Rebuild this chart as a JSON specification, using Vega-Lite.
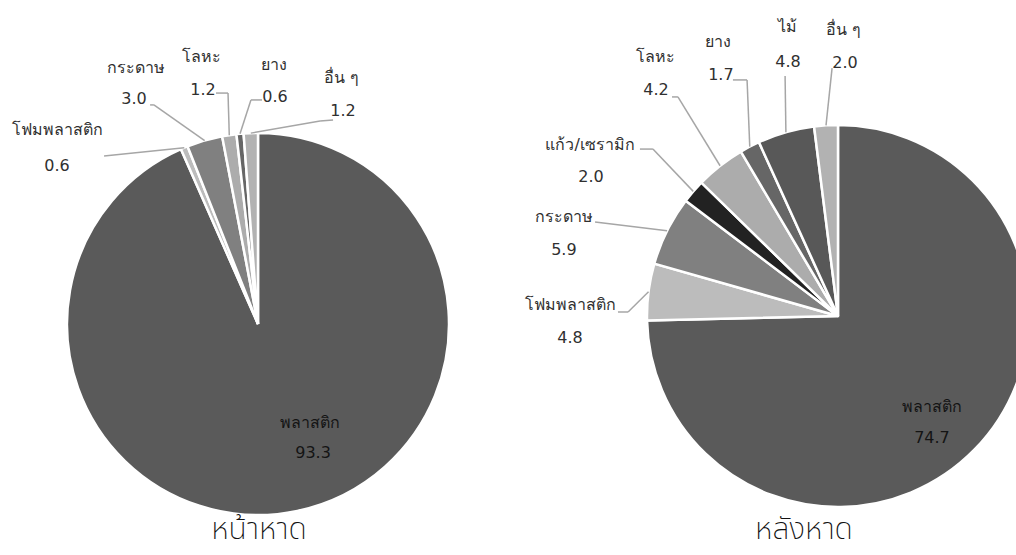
{
  "$schema": "https://vega.github.io/schema/vega-lite/v6.json",
  "width": 1016,
  "height": 555,
  "autosize": {"type": "none"},
  "padding": 0,
  "background": "white",
  "config": {
    "view": {"stroke": null},
    "font": "Tahoma, DejaVu Sans, sans-serif"
  },
  "datasets": {
    "slices": [
      {"pie": "หน้าหาด", "material": "พลาสติก", "value": 93.3, "ord": 1},
      {"pie": "หน้าหาด", "material": "โฟมพลาสติก", "value": 0.6, "ord": 2},
      {"pie": "หน้าหาด", "material": "กระดาษ", "value": 3.0, "ord": 3},
      {"pie": "หน้าหาด", "material": "โลหะ", "value": 1.2, "ord": 4},
      {"pie": "หน้าหาด", "material": "ยาง", "value": 0.6, "ord": 5},
      {"pie": "หน้าหาด", "material": "อื่น ๆ", "value": 1.2, "ord": 6},
      {"pie": "หลังหาด", "material": "พลาสติก", "value": 74.7, "ord": 1},
      {"pie": "หลังหาด", "material": "โฟมพลาสติก", "value": 4.8, "ord": 2},
      {"pie": "หลังหาด", "material": "กระดาษ", "value": 5.9, "ord": 3},
      {"pie": "หลังหาด", "material": "แก้ว/เซรามิก", "value": 2.0, "ord": 4},
      {"pie": "หลังหาด", "material": "โลหะ", "value": 4.2, "ord": 5},
      {"pie": "หลังหาด", "material": "ยาง", "value": 1.7, "ord": 6},
      {"pie": "หลังหาด", "material": "ไม้", "value": 4.8, "ord": 7},
      {"pie": "หลังหาด", "material": "อื่น ๆ", "value": 2.0, "ord": 8}
    ],
    "layout": [
      {"key": "หน้าหาด|พลาสติก", "nx": 0.272, "ny": 0.518, "vx": 0.288, "vy": 0.675},
      {"key": "หน้าหาด|โฟมพลาสติก", "nx": -1.052, "ny": -1.016, "vx": -1.052, "vy": -0.827, "ax": -0.806, "ay": -0.88, "bx": -0.806, "by": -0.88},
      {"key": "หน้าหาด|กระดาษ", "nx": -0.639, "ny": -1.34, "vx": -0.649, "vy": -1.178, "ax": -0.565, "ay": -1.147, "bx": -0.545, "by": -1.147},
      {"key": "หน้าหาด|โลหะ", "nx": -0.298, "ny": -1.398, "vx": -0.288, "vy": -1.225, "ax": -0.22, "ay": -1.209, "bx": -0.157, "by": -1.209},
      {"key": "หน้าหาด|ยาง", "nx": 0.084, "ny": -1.356, "vx": 0.089, "vy": -1.188, "ax": 0.021, "ay": -1.173, "bx": -0.037, "by": -1.173},
      {"key": "หน้าหาด|อื่น ๆ", "nx": 0.435, "ny": -1.288, "vx": 0.445, "vy": -1.115, "ax": 0.393, "ay": -1.068, "bx": 0.325, "by": -1.063},
      {"key": "หลังหาด|พลาสติก", "nx": 0.492, "ny": 0.476, "vx": 0.492, "vy": 0.639},
      {"key": "หลังหาด|โฟมพลาสติก", "nx": -1.398, "ny": -0.058, "vx": -1.403, "vy": 0.115, "ax": -1.152, "ay": -0.021, "bx": -1.099, "by": -0.021},
      {"key": "หลังหาด|กระดาษ", "nx": -1.435, "ny": -0.518, "vx": -1.435, "vy": -0.346, "ax": -1.272, "ay": -0.492, "bx": -1.272, "by": -0.492},
      {"key": "หลังหาด|แก้ว/เซรามิก", "nx": -1.298, "ny": -0.895, "vx": -1.293, "vy": -0.728, "ax": -1.037, "ay": -0.874, "bx": -0.969, "by": -0.874},
      {"key": "หลังหาด|โลหะ", "nx": -0.958, "ny": -1.356, "vx": -0.953, "vy": -1.183, "ax": -0.869, "ay": -1.147, "bx": -0.838, "by": -1.147},
      {"key": "หลังหาด|ยาง", "nx": -0.628, "ny": -1.435, "vx": -0.613, "vy": -1.262, "ax": -0.55, "ay": -1.236, "bx": -0.476, "by": -1.236},
      {"key": "หลังหาด|ไม้", "nx": -0.262, "ny": -1.513, "vx": -0.262, "vy": -1.33, "ax": -0.277, "ay": -1.257, "bx": -0.277, "by": -1.257},
      {"key": "หลังหาด|อื่น ๆ", "nx": 0.031, "ny": -1.497, "vx": 0.037, "vy": -1.325, "ax": -0.031, "ay": -1.298, "bx": -0.031, "by": -1.298}
    ],
    "pies": [
      {"pie": "หน้าหาด", "cx": 1.3508, "cy": 1.6963, "tx": 0.005, "ty": 1.078},
      {"pie": "หลังหาด", "cx": 4.3874, "cy": 1.6545, "tx": -0.178, "ty": 1.12}
    ]
  },
  "layer": [
    {
      "data": {"name": "slices"},
      "transform": [
        {"stack": "value", "groupby": ["pie"], "sort": [{"field": "ord", "order": "ascending"}], "offset": "normalize", "as": ["s0", "s1"]},
        {"calculate": "datum.pie + '|' + datum.material", "as": "key"},
        {"lookup": "pie", "from": {"data": {"name": "pies"}, "key": "pie", "fields": ["cx", "cy"]}},
        {"lookup": "key", "from": {"data": {"name": "layout"}, "key": "key", "fields": ["nx", "ny", "vx", "vy", "ax", "ay", "bx", "by"]}},
        {"calculate": "(datum.s0 + datum.s1) * PI", "as": "mid"},
        {"calculate": "datum.cx + sin(datum.mid)", "as": "ex"},
        {"calculate": "datum.cy - cos(datum.mid)", "as": "ey"},
        {"calculate": "datum.cx + datum.nx", "as": "nameX"},
        {"calculate": "datum.cy + datum.ny", "as": "nameY"},
        {"calculate": "datum.cx + datum.vx", "as": "valX"},
        {"calculate": "datum.cy + datum.vy", "as": "valY"},
        {"calculate": "datum.cx + datum.ax", "as": "lineX1"},
        {"calculate": "datum.cy + datum.ay", "as": "lineY1"},
        {"calculate": "datum.cx + datum.bx", "as": "lineX2"},
        {"calculate": "datum.cy + datum.by", "as": "lineY2"}
      ],
      "layer": [
        {
          "mark": {"type": "arc", "outerRadius": 191, "stroke": "white", "strokeWidth": 2.5},
          "encoding": {
            "x": {"field": "cx", "type": "quantitative", "scale": {"domain": [0, 5.3194], "nice": false, "zero": false}, "axis": null},
            "y": {"field": "cy", "type": "quantitative", "scale": {"domain": [0, 2.9058], "nice": false, "zero": false, "reverse": true}, "axis": null},
            "theta": {"field": "s0", "type": "quantitative", "stack": null, "scale": {"domain": [0, 1]}},
            "theta2": {"field": "s1"},
            "color": {
              "field": "material",
              "type": "nominal",
              "legend": null,
              "scale": {
                "domain": ["พลาสติก", "โฟมพลาสติก", "กระดาษ", "แก้ว/เซรามิก", "โลหะ", "ยาง", "ไม้", "อื่น ๆ"],
                "range": ["#5a5a5a", "#bcbcbc", "#808080", "#222222", "#acacac", "#666666", "#585858", "#b2b2b2"]
              }
            }
          }
        },
        {
          "transform": [{"filter": "isValid(datum.ax)"}],
          "mark": {"type": "rule", "color": "#a6a6a6", "strokeWidth": 1.5},
          "encoding": {
            "x": {"field": "lineX1", "type": "quantitative"},
            "y": {"field": "lineY1", "type": "quantitative"},
            "x2": {"field": "lineX2"},
            "y2": {"field": "lineY2"}
          }
        },
        {
          "transform": [{"filter": "isValid(datum.ax)"}],
          "mark": {"type": "rule", "color": "#a6a6a6", "strokeWidth": 1.5},
          "encoding": {
            "x": {"field": "lineX2", "type": "quantitative"},
            "y": {"field": "lineY2", "type": "quantitative"},
            "x2": {"field": "ex"},
            "y2": {"field": "ey"}
          }
        },
        {
          "mark": {"type": "text", "fontSize": 16, "align": "center", "baseline": "middle"},
          "encoding": {
            "x": {"field": "nameX", "type": "quantitative"},
            "y": {"field": "nameY", "type": "quantitative"},
            "text": {"field": "material"},
            "color": {"condition": {"test": "datum.ord == 1", "value": "#141414"}, "value": "#303030"}
          }
        },
        {
          "mark": {"type": "text", "fontSize": 16, "align": "center", "baseline": "middle"},
          "encoding": {
            "x": {"field": "valX", "type": "quantitative"},
            "y": {"field": "valY", "type": "quantitative"},
            "text": {"field": "value", "type": "quantitative", "format": ".1f"},
            "color": {"condition": {"test": "datum.ord == 1", "value": "#141414"}, "value": "#303030"}
          }
        }
      ]
    },
    {
      "data": {"name": "pies"},
      "transform": [
        {"calculate": "datum.cx + datum.tx", "as": "titleX"},
        {"calculate": "datum.cy + datum.ty", "as": "titleY"}
      ],
      "mark": {"type": "text", "font": "Noto Sans Thai, Noto Sans, sans-serif", "fontSize": 30, "fontWeight": 200, "align": "center", "baseline": "middle", "color": "#111111"},
      "encoding": {
        "x": {"field": "titleX", "type": "quantitative"},
        "y": {"field": "titleY", "type": "quantitative"},
        "text": {"field": "pie"}
      }
    }
  ]
}
